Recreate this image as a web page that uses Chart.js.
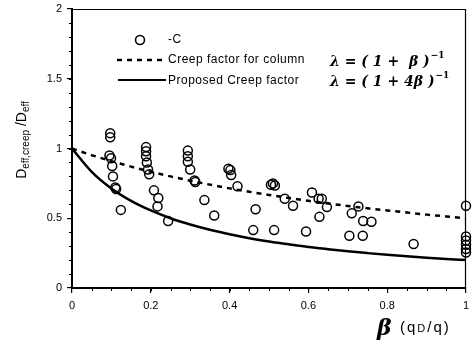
<!DOCTYPE html>
<html><head><meta charset="utf-8">
<script src="https://cdn.jsdelivr.net/npm/chart.js@4/dist/chart.umd.min.js"></script>
<style>html,body{margin:0;padding:0;background:#fff}canvas{display:block}</style>
</head><body>
<canvas id="c" width="472" height="345"></canvas>
<script>
// ---- data ----
const obsBeta = [0.097,0.097,0.095,0.099,0.102,0.104,0.110,0.112,0.124,
  0.188,0.188,0.188,0.190,0.193,0.196,0.208,0.219,0.217,0.244,
  0.294,0.294,0.294,0.300,0.311,0.313,0.336,0.361,
  0.397,0.402,0.404,0.420,0.466,0.460,0.513,0.505,0.510,0.515,0.540,0.561,
  0.594,0.609,0.626,0.634,0.628,0.647,0.710,0.727,0.739,0.760,0.704,0.738,
  0.867,1.0,1.0,1.0,1.0,1.0,1.0];
const obsRatio = [1.11,1.08,0.95,0.93,0.875,0.80,0.72,0.71,0.56,
  1.01,0.98,0.945,0.90,0.85,0.815,0.70,0.645,0.585,0.48,
  0.985,0.945,0.905,0.85,0.77,0.76,0.63,0.52,
  0.855,0.845,0.81,0.73,0.565,0.415,0.415,0.74,0.75,0.735,0.64,0.59,
  0.405,0.685,0.64,0.64,0.51,0.58,0.535,0.585,0.48,0.475,0.375,0.375,
  0.315,0.59,0.37,0.34,0.31,0.28,0.255];
const curveBeta = [0,0.05,0.1,0.15,0.2,0.25,0.3,0.35,0.4,0.45,0.5,0.55,0.6,0.65,0.7,0.75,0.8,0.85,0.9,0.95,1.0];
const columnFactor = [1,0.952,0.909,0.870,0.833,0.800,0.769,0.741,0.714,0.690,0.667,0.645,0.625,0.606,0.588,0.571,0.556,0.541,0.526,0.513,0.500];
const proposedFactor = [1,0.833,0.714,0.625,0.556,0.500,0.455,0.417,0.385,0.357,0.333,0.313,0.294,0.278,0.263,0.250,0.238,0.227,0.217,0.208,0.200];
const xTicks = [0,0.2,0.4,0.6,0.8,1];
const yTicks = [0,0.5,1,1.5,2];
const legendLabels = ['-C','Creep factor for column','Proposed Creep factor'];

const pts = obsBeta.map((b,i)=>({x:b,y:obsRatio[i]}));
const col = curveBeta.map((b,i)=>({x:b,y:columnFactor[i]}));
const prop = curveBeta.map((b,i)=>({x:b,y:proposedFactor[i]}));

const SANS = '"Liberation Sans", Arial, sans-serif';
const SERIF = '"DejaVu Serif", "Liberation Serif", serif';

const deco = {
  id:'deco',
  afterDraw(chart){
    const ctx = chart.ctx, a = chart.chartArea;
    const xs = chart.scales.x, ys = chart.scales.y;
    ctx.save();
    // top & right frame
    ctx.strokeStyle='#000'; ctx.lineWidth=1.2;
    ctx.beginPath(); ctx.moveTo(a.left,a.top+0.5); ctx.lineTo(a.right-0.5,a.top+0.5); ctx.lineTo(a.right-0.5,a.bottom); ctx.stroke();
    // minor ticks
    ctx.lineWidth=1;
    for(let v=0.1; v<2; v+=0.1){ const p=Math.round(ys.getPixelForValue(v))+0.5; ctx.beginPath(); ctx.moveTo(a.left-3,p); ctx.lineTo(a.left,p); ctx.stroke(); }
    for(let v=0.05; v<1; v+=0.05){ const p=Math.round(xs.getPixelForValue(v))+0.5; ctx.beginPath(); ctx.moveTo(p,a.bottom); ctx.lineTo(p,a.bottom+3); ctx.stroke(); }
    // legend
    const lx = a.left, ly = a.top;
    ctx.fillStyle='#000'; ctx.textBaseline='middle'; ctx.font='12px '+SANS;
    ctx.letterSpacing='0.5px';
    ctx.lineWidth=1.6; ctx.beginPath(); ctx.arc(lx+68, ly+31, 4.5, 0, Math.PI*2); ctx.stroke();
    ctx.fillText(legendLabels[0], lx+96, ly+31);
    ctx.lineWidth=2.5; ctx.setLineDash([5,5]);
    ctx.beginPath(); ctx.moveTo(lx+45, ly+51); ctx.lineTo(lx+92, ly+51); ctx.stroke();
    ctx.setLineDash([]);
    ctx.fillText(legendLabels[1], lx+96, ly+51);
    ctx.lineWidth=2.2;
    ctx.beginPath(); ctx.moveTo(lx+46, ly+71); ctx.lineTo(lx+94, ly+71); ctx.stroke();
    ctx.fillText(legendLabels[2], lx+96, ly+72);
    ctx.letterSpacing='0px';
    // formulas
    const formula = (x,y,txt)=>{
      ctx.font='italic bold 14px '+SERIF; ctx.textBaseline='alphabetic';
      ctx.fillText(txt, x, y);
      const w = ctx.measureText(txt).width;
      ctx.font='bold 9px '+SERIF;
      ctx.fillText('\u2212'+'1', x+w+1, y-8);
    };
    formula(lx+258, ly+57, '\u03bb = ( 1 +  \u03b2 )');
    formula(lx+258, ly+77, '\u03bb = ( 1 + 4\u03b2 )');
    // y title (rotated)
    ctx.save();
    ctx.translate(21, 140); ctx.rotate(-Math.PI/2);
    const segs=[['D',14,0],['eff,creep',10,3],[' /D',14,0],['eff',10,3]];
    let tw=0; segs.forEach(s=>{ctx.font=s[1]+'px '+SANS; tw+=ctx.measureText(s[0]).width;});
    let cx=-tw/2; ctx.textBaseline='alphabetic';
    segs.forEach(s=>{ctx.font=s[1]+'px '+SANS; ctx.fillText(s[0],cx,5+s[2]); cx+=ctx.measureText(s[0]).width;});
    ctx.restore();
    // x title
    ctx.textBaseline='alphabetic';
    ctx.font='italic bold 22px '+SERIF;
    ctx.fillText('\u03b2', 377, 335);
    ctx.letterSpacing='2px';
    let px = 400;
    ctx.font='15px '+SANS; ctx.fillText('(q', px, 332); px += ctx.measureText('(q').width;
    ctx.font='11px '+SANS; ctx.fillText('D', px, 332); px += ctx.measureText('D').width;
    ctx.font='15px '+SANS; ctx.fillText('/q)', px, 332);
    ctx.letterSpacing='0px';
    ctx.restore();
  }
};

new Chart(document.getElementById('c'), {
  type:'scatter',
  data:{datasets:[
    {label:legendLabels[0], data:pts, showLine:false, pointStyle:'circle', pointRadius:4.5, pointBorderWidth:1.5,
     borderColor:'#000', backgroundColor:'rgba(0,0,0,0)', pointBackgroundColor:'rgba(0,0,0,0)', clip:false, order:1},
    {label:legendLabels[1], data:col, showLine:true, pointRadius:0, borderColor:'#000', borderWidth:2.5, borderDash:[5,5], tension:0, order:2},
    {label:legendLabels[2], data:prop, showLine:true, pointRadius:0, borderColor:'#000', borderWidth:2.5, tension:0.4, cubicInterpolationMode:'monotone', order:3}
  ]},
  options:{
    responsive:false, animation:false,
    layout:{padding:{top:9,right:3,left:0,bottom:0}},
    plugins:{legend:{display:false}, tooltip:{enabled:false}},
    scales:{
      x:{type:'linear', min:0, max:1,
        afterBuildTicks(s){ s.ticks = xTicks.map(v=>({value:v})); },
        afterFit(s){ s.height = 57; s.paddingLeft = 0; s.paddingRight = 0; },
        ticks:{font:{family:SANS,size:11}, color:'#000', padding:6, maxRotation:0,
          callback:(v)=>String(v)},
        grid:{display:true, drawOnChartArea:false, tickLength:5, color:'#000', lineWidth:1.2},
        border:{display:true, color:'#000', width:2}},
      y:{type:'linear', min:0, max:2,
        afterBuildTicks(s){ s.ticks = yTicks.map(v=>({value:v})); },
        afterFit(s){ s.width = 72; s.paddingTop = 0; s.paddingBottom = 0; },
        ticks:{font:{family:SANS,size:11}, color:'#000', padding:5, callback:(v)=>String(v)},
        grid:{display:true, drawOnChartArea:false, tickLength:5, color:'#000', lineWidth:1.2},
        border:{display:true, color:'#000', width:2}}
    }
  },
  plugins:[deco]
});
</script>
</body></html>
